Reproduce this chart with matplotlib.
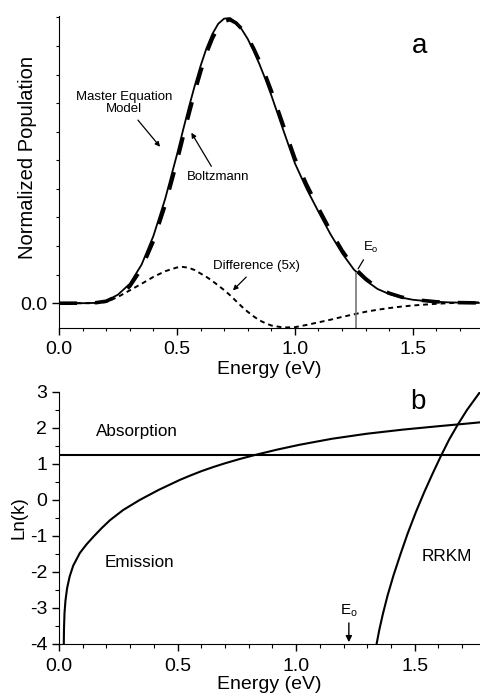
import numpy as np
import matplotlib.pyplot as plt
from matplotlib.ticker import MultipleLocator, FixedLocator

plt.rcParams['font.family'] = ['Liberation Sans', 'DejaVu Sans']
plt.rcParams['axes.unicode_minus'] = False

# panel a: normalized population vs energy (eV)
energy = [0.00, 0.05, 0.10, 0.15, 0.20, 0.25, 0.30, 0.35, 0.40, 0.45, 0.50, 0.525,
          0.55, 0.575, 0.60, 0.625, 0.65, 0.675, 0.70, 0.725, 0.75, 0.775, 0.80, 0.825,
          0.85, 0.875, 0.90, 0.95, 1.00, 1.05, 1.10, 1.15, 1.20, 1.25, 1.30, 1.35,
          1.40, 1.45, 1.50, 1.55, 1.60, 1.65, 1.70, 1.78]
master = [0.000, 0.000, 0.000, 0.001, 0.008, 0.030, 0.068, 0.135, 0.235, 0.365, 0.520, 0.603,
          0.684, 0.760, 0.830, 0.892, 0.942, 0.978, 0.996, 0.998, 0.983, 0.958, 0.925, 0.883,
          0.836, 0.784, 0.728, 0.608, 0.490, 0.400, 0.320, 0.243, 0.175, 0.118, 0.080, 0.050,
          0.032, 0.020, 0.012, 0.008, 0.005, 0.003, 0.002, 0.001]
boltz = [0.000, 0.000, 0.000, 0.001, 0.007, 0.026, 0.059, 0.121, 0.217, 0.343, 0.495, 0.578,
         0.659, 0.737, 0.809, 0.874, 0.926, 0.966, 0.987, 0.992, 0.981, 0.960, 0.931, 0.892,
         0.848, 0.798, 0.744, 0.625, 0.507, 0.415, 0.333, 0.255, 0.185, 0.126, 0.086, 0.054,
         0.035, 0.022, 0.013, 0.009, 0.005, 0.003, 0.002, 0.001]
diff5 = [0.000, 0.000, 0.000, 0.000, 0.004, 0.022, 0.045, 0.068, 0.092, 0.112, 0.125, 0.127,
         0.124, 0.116, 0.104, 0.092, 0.078, 0.062, 0.046, 0.028, 0.008, -0.012, -0.030, -0.046,
         -0.060, -0.070, -0.078, -0.085, -0.084, -0.076, -0.067, -0.058, -0.048, -0.039, -0.030, -0.023,
         -0.017, -0.012, -0.008, -0.005, -0.002, 0.000, 0.002, 0.003]
E0 = 1.26

# panel b: ln(k) vs energy
em_e = [0.020, 0.021, 0.023, 0.027, 0.034, 0.045, 0.060, 0.088, 0.115, 0.145, 0.180, 0.215,
        0.270, 0.340, 0.420, 0.510, 0.550, 0.600, 0.650, 0.700, 0.760, 0.820, 0.920, 1.015,
        1.150, 1.297, 1.450, 1.600, 1.700, 1.780]
em_k = [-4.00, -3.55, -3.15, -2.80, -2.45, -2.12, -1.82, -1.47, -1.24, -1.02, -0.78, -0.56,
        -0.28, 0.00, 0.28, 0.56, 0.67, 0.80, 0.915, 1.02, 1.135, 1.24, 1.40, 1.535,
        1.70, 1.84, 1.955, 2.05, 2.11, 2.16]
abs_e = [0.00, 1.78]
abs_k = [1.25, 1.25]
rr_e = [1.339, 1.350, 1.365, 1.385, 1.410, 1.440, 1.470, 1.505, 1.540, 1.575, 1.610, 1.645,
        1.680, 1.720, 1.774]
rr_k = [-4.00, -3.62, -3.18, -2.66, -2.10, -1.50, -0.93, -0.33, 0.22, 0.73, 1.22, 1.68,
        2.08, 2.50, 2.99]

fig = plt.figure(figsize=(4.8, 6.98), dpi=100)
ax1 = fig.add_axes([0.123, 0.530, 0.877, 0.447])
ax2 = fig.add_axes([0.123, 0.0774, 0.877, 0.361])

# ---- panel a
ax1.plot(energy, master, color='black', lw=1.3)
ax1.plot(energy, boltz, color='black', lw=2.6, dashes=(5, 5))
ax1.plot(energy, diff5, color='black', lw=1.4, dashes=(2.5, 2))
ax1.vlines(E0, -0.087, np.interp(E0, energy, master), color='#777777', lw=1.2)
ax1.set_xlim(0, 1.785)
ax1.set_ylim(-0.087, 1.005)
ax1.spines['top'].set_visible(False)
ax1.spines['right'].set_visible(False)
ax1.xaxis.set_major_locator(MultipleLocator(0.5))
ax1.xaxis.set_minor_locator(MultipleLocator(0.1))
ax1.yaxis.set_major_locator(FixedLocator([0.0]))
ax1.yaxis.set_minor_locator(MultipleLocator(0.1))
ax1.xaxis.set_major_formatter(plt.FuncFormatter(lambda v, p: f'{v:.1f}'))
ax1.yaxis.set_major_formatter(plt.FuncFormatter(lambda v, p: f'{v:.1f}'))
ax1.tick_params(which='major', length=5, width=1, labelsize=14)
ax1.tick_params(which='minor', length=2.5, width=0.8)
ax1.tick_params(axis='x', which='major', pad=4.5)
ax1.set_xlabel('Energy (eV)', fontsize=14, labelpad=2)
ax1.set_ylabel('Normalized Population', fontsize=14.5)
ax1.yaxis.set_label_coords(-0.052, 0.548)

arrow = dict(arrowstyle='-|>', color='black', lw=0.9, mutation_scale=7)
ax1.annotate('Master Equation\nModel', xy=(0.436, 0.54), xytext=(0.275, 0.70),
             fontsize=9.5, ha='center', va='center', linespacing=1.0, arrowprops=arrow)
ax1.annotate('Boltzmann', xy=(0.555, 0.605), xytext=(0.674, 0.44),
             fontsize=9.5, ha='center', va='center', arrowprops=arrow)
ax1.annotate('Difference (5x)', xy=(0.729, 0.038), xytext=(0.839, 0.129),
             fontsize=9.5, ha='center', va='center', arrowprops=arrow)
ax1.annotate('E$_\\mathregular{o}$', xy=(1.262, 0.112), xytext=(1.29, 0.17),
             fontsize=9.5, ha='left', va='bottom',
             arrowprops=dict(arrowstyle='-', color='black', lw=0.9))
ax1.text(1.53, 0.90, 'a', fontsize=20, ha='center', va='center')

# ---- panel b
ax2.plot(abs_e, abs_k, color='black', lw=1.5)
ax2.plot(em_e, em_k, color='black', lw=1.5)
ax2.plot(rr_e, rr_k, color='black', lw=1.5)
ax2.set_xlim(0, 1.775)
ax2.set_ylim(-4, 3)
ax2.spines['top'].set_visible(False)
ax2.spines['right'].set_visible(False)
ax2.xaxis.set_major_locator(MultipleLocator(0.5))
ax2.xaxis.set_minor_locator(MultipleLocator(0.1))
ax2.yaxis.set_major_locator(MultipleLocator(1))
ax2.yaxis.set_minor_locator(MultipleLocator(0.5))
ax2.xaxis.set_major_formatter(plt.FuncFormatter(lambda v, p: f'{v:.1f}'))
ax2.tick_params(which='major', length=5, width=1, labelsize=14)
ax2.tick_params(which='minor', length=3, width=0.8)
ax2.tick_params(axis='x', which='major', pad=5)
ax2.set_xlabel('Energy (eV)', fontsize=14, labelpad=1)
ax2.set_ylabel('Ln(k)', fontsize=13.5)
ax2.yaxis.set_label_coords(-0.076, 0.5)

ax2.text(0.33, 1.89, 'Absorption', fontsize=12.3, ha='center', va='center')
ax2.text(0.337, -1.75, 'Emission', fontsize=12.3, ha='center', va='center')
ax2.text(1.635, -1.58, 'RRKM', fontsize=12.3, ha='center', va='center')
ax2.text(1.513, 2.72, 'b', fontsize=20, ha='center', va='center')
ax2.annotate('E$_\\mathregular{o}$', xy=(1.222, -3.95), xytext=(1.222, -3.3),
             fontsize=11, ha='center', va='bottom',
             arrowprops=dict(arrowstyle='-|>', color='black', lw=1.0, mutation_scale=9,
                             shrinkA=1, shrinkB=0))

fig.savefig('out.png', dpi=100)
